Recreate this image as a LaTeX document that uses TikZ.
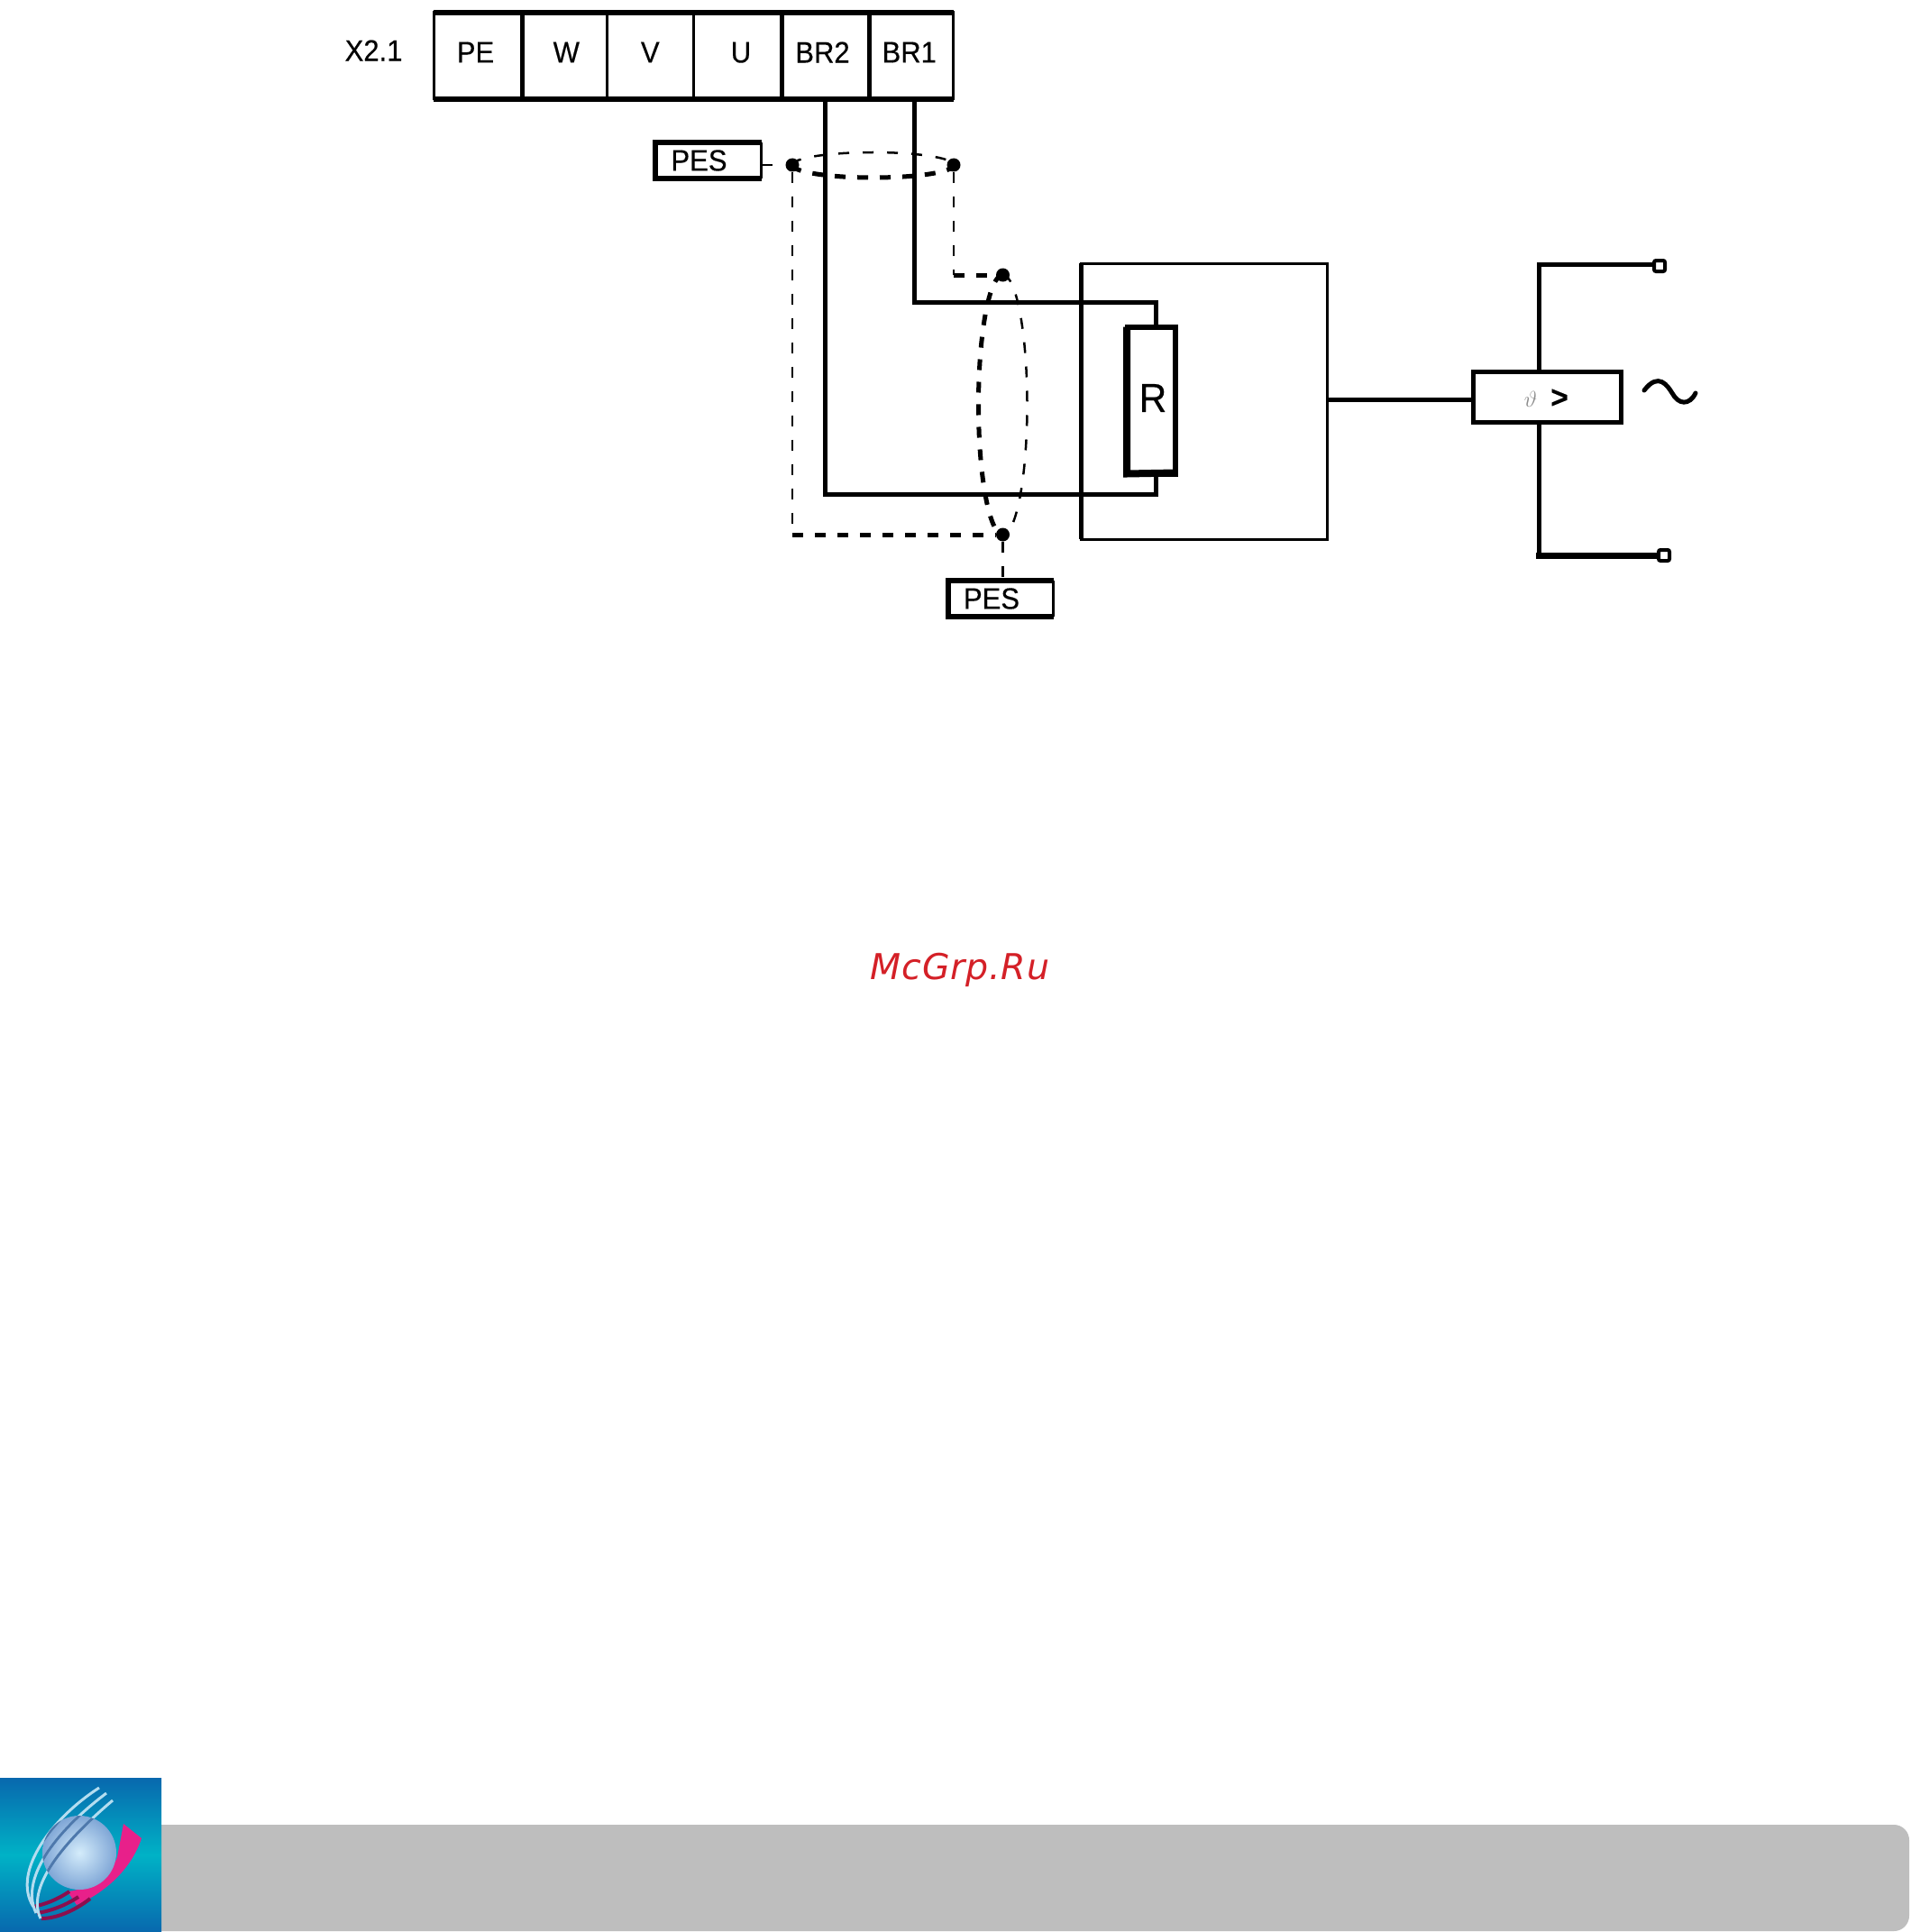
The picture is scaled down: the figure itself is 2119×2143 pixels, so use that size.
\documentclass[tikz,border=0pt]{standalone}
\usepackage{fontspec}
\setmainfont{Liberation Sans}[FakeStretch=0.94, FakeBold=0.3]
\newfontfamily\stampfont{DejaVu Sans}
\usetikzlibrary{positioning,calc}

\definecolor{barGray}{HTML}{BEBEBE}
\definecolor{stampRed}{HTML}{D42027}
\definecolor{logoBlue}{HTML}{0868AE}
\definecolor{logoCyan}{HTML}{00B2C6}
\definecolor{logoPink}{HTML}{E8208A}
\definecolor{logoWine}{HTML}{8A0F4E}
\definecolor{arcLight}{HTML}{B4DDF0}
\definecolor{arcDark}{HTML}{4E78AC}
\definecolor{ballLight}{HTML}{D4ECFB}
\definecolor{ballEdge}{HTML}{7FA6D6}

\newcommand{\logoarcs}{%
    (110,1983) .. controls (60,2015) and (12,2075) .. (37,2115)
    (118,1989) .. controls (70,2025) and (20,2080) .. (40,2122)
    (125,1997) .. controls (80,2035) and (27,2090) .. (45,2128)
}

\begin{document}
\begin{tikzpicture}[
    x=1pt, y=-1pt,
    cell/.style={rectangle, draw, line width=3pt, minimum height=96pt, inner sep=0pt, outer sep=0pt, text depth=8pt, font=\fontsize{33}{36}\selectfont},
    peslabel/.style={rectangle, minimum height=40pt, inner sep=0pt, outer sep=0pt, font=\fontsize{33}{36}\selectfont},
    wire/.style={line width=5pt, line join=miter},
    heavy/.style={line width=6pt},
    divider/.style={line width=5pt},
    shieldthin/.style={line width=2.5pt, dash pattern=on 12pt off 15pt},
    shieldthick/.style={line width=5pt, dash pattern=on 12pt off 13pt},
    dot/.style={circle, fill=black, inner sep=0pt, minimum size=15pt},
    contact/.style={rectangle, draw, line width=4pt, rounded corners=2pt, fill=white, minimum size=12pt, inner sep=0pt}
]
\useasboundingbox (0,0) rectangle (2119,2143);

% Terminal strip
\node[cell, minimum width=98pt, anchor=north west] (pe) at (481,14) {\hspace*{-5pt}PE};
\node[cell, minimum width=94.6pt, right=0pt of pe] (w) {\hspace*{4pt}W};
\node[cell, minimum width=95.4pt, right=0pt of w] (v) {V};
\node[cell, minimum width=98pt, right=0pt of v] (u) {\hspace*{8pt}U};
\node[cell, minimum width=97pt, right=0pt of u] (br2) {\hspace*{-6pt}BR2};
\node[cell, minimum width=93.5pt, right=0pt of br2] (br1) {\hspace*{-4pt}BR1};
\node[left=31pt of pe, yshift=6pt, font=\fontsize{33}{36}\selectfont] (x21) {X2.1};
\draw[heavy] (pe.north west) -- (br1.north east);
\draw[heavy] (pe.south west) -- (br1.south east);
\draw[divider] (pe.north east) -- (pe.south east);
\draw[divider] (u.north east) -- (u.south east);
\draw[divider] (br2.north east) -- (br2.south east);

% Resistor box
\node[rectangle, draw, line width=3pt, minimum width=273.6pt, minimum height=306pt, outer sep=0pt] (rbox) at (1335.8,445) {};
\draw[divider] (rbox.north west) -- (rbox.south west);
\node[rectangle, draw, line width=6pt, minimum width=53pt, minimum height=163pt, inner sep=0pt, outer sep=0pt, text depth=5pt, font=\fontsize{45}{48}\selectfont] (res) at (1277.5,444) {\hspace*{3pt}R};
\draw[line width=8pt] ([xshift=-1pt]res.north west) -- ([xshift=-1pt]res.south west) -- ([yshift=1pt]res.south east);

% Wires to the resistor
\coordinate (br1out) at (1014.5,113);
\coordinate (br2out) at (915.5,113);
\draw[wire] (br1out) |- (1282,335) -- (1282,362);
\draw[wire] (br2out) |- (1282,548) -- (1282,527);

% Shield dots
\node[dot] (dotA) at (879,183) {};
\node[dot] (dotB) at (1058,183) {};
\node[dot] (dotC) at (1112.5,305) {};
\node[dot] (dotD) at (1112.5,593) {};

% Shield ellipses
\draw[shieldthin] (dotA.center) arc[start angle=180, end angle=0, x radius=89.5pt, y radius=14pt];
\draw[shieldthick] (dotA.center) arc[start angle=180, end angle=360, x radius=89.5pt, y radius=14pt];
\draw[shieldthick] (dotC.center) arc[start angle=90, end angle=270, x radius=27pt, y radius=144pt];
\draw[shieldthin] (dotC.center) arc[start angle=90, end angle=-90, x radius=27pt, y radius=144pt];

% Shield wires
\node[peslabel, minimum width=118pt] (pesA) at (785.5,178) {\hspace*{-20pt}PES};
\node[peslabel, minimum width=117pt] (pesB) at (1110,664) {\hspace*{-20pt}PES};
\draw[heavy] (pesA.north east) -- (pesA.north west) -- (pesA.south west) -- (pesA.south east);
\draw[line width=3pt] (pesA.north east) -- (pesA.south east);
\draw[heavy] (pesB.north east) -- (pesB.north west) -- (pesB.south west) -- (pesB.south east);
\draw[line width=3pt] (pesB.north east) -- (pesB.south east);
\draw[shieldthin] (pesA.east |- dotA) -- (dotA);
\draw[shieldthin] (dotA) -- (dotA |- dotD);
\draw[shieldthick] (dotA |- dotD) -- (dotD);
\draw[shieldthin] (dotB) -- (dotB |- dotC);
\draw[shieldthick] (dotB |- dotC) -- (dotC);
\draw[shieldthin] (dotD) -- (dotD |- pesB.north);

% Thermal contact
\node[rectangle, draw, line width=5pt, minimum width=164pt, minimum height=56pt, inner sep=0pt, outer sep=0pt] (thermal) at (1716.5,440.5) {};
\node[text=black!45, font=\fontsize{30}{32}\selectfont] (theta) at (1698,443) {$\vartheta$};
\node[font=\bfseries\fontsize{35}{36}\selectfont] (gt) at (1730,442) {>};
\draw[wire] (rbox.east |- theta) -- (thermal.west |- theta);
\node[contact] (k1) at (1841,295) {};
\node[contact] (k2) at (1846,616) {};
\coordinate (up) at (1707.5,293);
\coordinate (down) at (1707.5,616);
\draw[wire] (up |- thermal.north) -- (up) -- (k1.west |- up);
\draw[wire] (down |- thermal.south) -- (down);
\draw[line width=7pt] (1704,616) -- (k2.west);
\coordinate (acA) at (1824,433);
\coordinate (acB) at (1881,436);
\draw[line width=5pt, line cap=round] (acA) .. controls (1840,412) and (1850,428) .. (1855,436) .. controls (1862,449) and (1874,450) .. (acB);

% Watermark
\node[text=stampRed, font=\stampfont\itshape\fontsize{39.5}{42}\selectfont, anchor=base] (stamp) at (1065,1086) {\addfontfeature{LetterSpace=2}McGrp.Ru};

% Footer bar
\fill[barGray] (179,2024) -- (2101,2024) arc[start angle=90, end angle=0, radius=17pt] -- (2118,2125) arc[start angle=0, end angle=-90, radius=17pt] -- (179,2142) -- cycle;

% Logo
\shade[top color=logoBlue, bottom color=logoBlue, middle color=logoCyan] (0,1972) rectangle (179,2143);
\fill[logoPink] (137,2023) -- (157,2039) .. controls (145,2075) and (115,2100) .. (85,2113) -- (75,2098) .. controls (105,2095) and (125,2075) .. (130,2060) -- cycle;
\draw[logoWine, line width=4pt] (77,2098) .. controls (62,2108) and (50,2112) .. (37,2115);
\draw[logoWine, line width=4pt] (87,2104) .. controls (72,2114) and (55,2120) .. (41,2122);
\draw[logoWine, line width=4pt] (100,2106) .. controls (82,2120) and (62,2128) .. (46,2128);
\shade[inner color=ballLight, outer color=ballEdge] (88,2055) circle[radius=41pt];
\draw[arcLight, line width=3pt] \logoarcs;
\begin{scope}
    \clip (88,2055) circle[radius=41pt];
    \draw[arcDark, line width=3pt] \logoarcs;
\end{scope}

\end{tikzpicture}
\end{document}
